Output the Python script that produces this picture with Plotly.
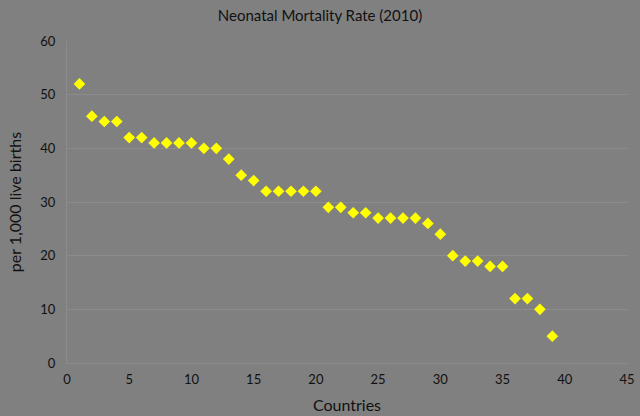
import plotly.graph_objects as go

# country index and neonatal mortality rate (per 1,000 live births)
countries = list(range(1, 40))
rates = [52, 46, 45, 45, 42, 42, 41, 41, 41, 41,
         40, 40, 38, 35, 34, 32, 32, 32, 32, 32,
         29, 29, 28, 28, 27, 27, 27, 27, 26, 24,
         20, 19, 19, 18, 18, 12, 12, 10, 5]

fig = go.Figure()
fig.add_trace(go.Scatter(
    x=countries, y=rates, mode='markers',
    marker=dict(symbol='diamond', size=9, color='#ffff00', line=dict(width=0)),
    showlegend=False,
))

fig.update_layout(
    width=640, height=416,
    paper_bgcolor='#808080', plot_bgcolor='#808080',
    margin=dict(l=67, r=13, t=41, b=53, autoexpand=False),
    font=dict(family='Lato, Open Sans, sans-serif', size=13, color='#111111'),
    title=dict(text='Neonatal Mortality Rate (2010)', x=0.5, xanchor='center',
               y=0.963, yanchor='middle', font=dict(size=15, color='#111111')),
)
fig.update_xaxes(
    range=[0, 45], dtick=5, showgrid=False, zeroline=False,
    showline=True, linecolor='#8c8c8c', linewidth=1,
    ticks='', ticklabelstandoff=4, automargin=False,
    title=dict(text='Countries', standoff=14),
)
fig.update_yaxes(
    range=[0, 60], dtick=10, showgrid=True, gridcolor='#8c8c8c', gridwidth=1,
    zeroline=False, showline=True, linecolor='#8c8c8c', linewidth=1,
    ticks='', ticklabelstandoff=8, automargin=False,
    title=dict(text='per 1,000 live births', standoff=14),
)

# page body has a default margin, drop it so the figure fills the window
fig.write_html("out.html", config={'displayModeBar': False},
               post_script="document.body.style.margin='0';document.body.style.background='#808080';")
